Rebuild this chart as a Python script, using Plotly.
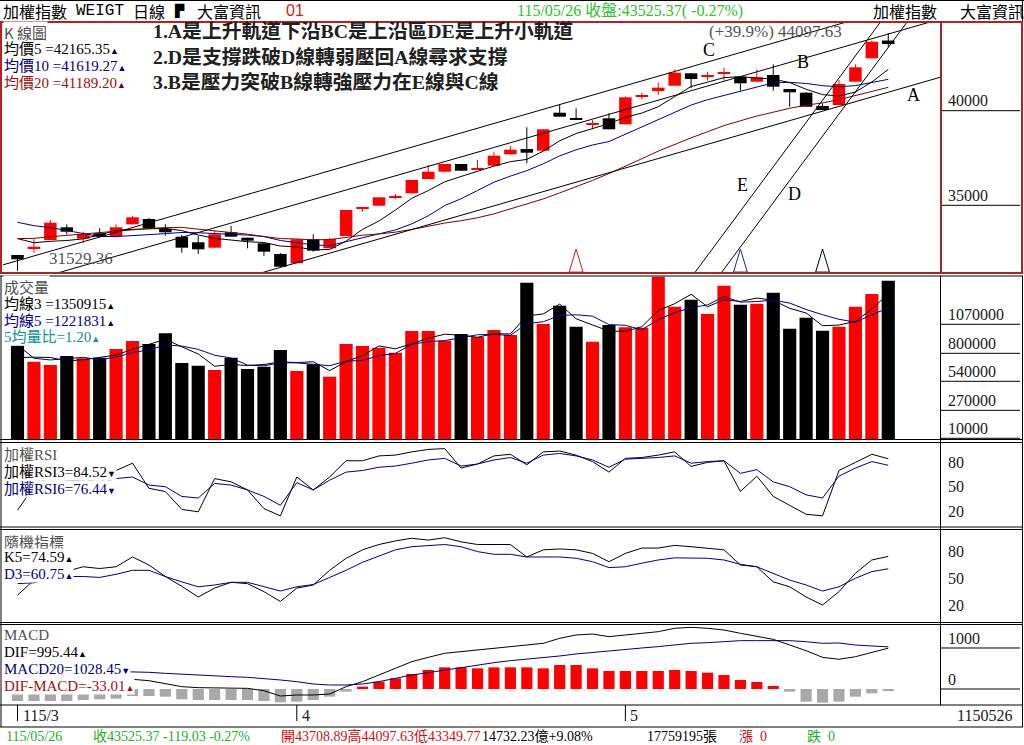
import numpy as np
import pandas as pd
import plotly.graph_objects as go

W, H = 1024, 745
def px(x): return x / W
def py(y): return 1 - y / H

# ---------------- data ----------------
opens = [32374, 32728, 33166, 33838, 33235, 33521, 33378, 33995, 34276, 33748,
         33341, 33045, 32760, 33573, 33288, 32992, 32427, 31935, 33204, 32728,
         33378, 34819, 34979, 35423, 35634, 36390, 36776, 37183, 36903, 37093,
         37696, 37976, 37886, 39894, 39560, 39281, 39598, 39281, 40761, 41041,
         41321, 41977, 41818, 41955, 41797, 41533, 41887, 41147, 40951, 40248,
         40301, 41533, 42769, 43708.89]
highs = [32374, 33204, 34219, 33995, 33605, 33785, 33995, 34451, 34330, 33995,
         33431, 33378, 33658, 33906, 33288, 32992, 32480, 33204, 33468, 33288,
         34752, 34926, 35423, 35598, 36338, 37130, 37183, 37183, 37394, 37833,
         38134, 39122, 39017, 40301, 40127, 39508, 39863, 40760, 40951, 41480,
         42188, 41977, 42061, 42273, 41797, 42188, 42452, 41147, 40990, 40391,
         41622, 42452, 43700, 44097.63]
lows = [31529.36, 32495, 33166, 33468, 32992, 33309, 33309, 33995, 33785, 33394,
        32495, 32427, 32760, 33341, 32728, 32321, 31755, 31935, 32548, 32728,
        33378, 34662, 34979, 35317, 35634, 36390, 36776, 36829, 36903, 37093,
        37696, 37220, 37886, 39683, 39545, 39017, 39017, 39281, 40603, 40830,
        41321, 41184, 41586, 41586, 41057, 41533, 41057, 40211, 40211, 40037,
        40301, 41533, 42769, 43349.77]
closes = [32147, 32812, 34081, 33605, 33484, 33341, 33838, 34366, 33785, 33573,
          32760, 32675, 33468, 33341, 33130, 32548, 31755, 33204, 32601, 33219,
          34752, 34855, 35423, 35492, 36338, 36776, 37183, 36829, 36956, 37622,
          37939, 37780, 39017, 39683, 39545, 39316, 39017, 40708, 40793, 41216,
          42008, 41675, 41850, 41992, 41448, 41765, 41268, 40972, 40211, 40037,
          41411, 42294, 43644.40, 43525.37]
# closes before the visible window (estimated from where the MA lines start)
prior_closes = [32600, 32300, 32100, 31900, 32200, 32400, 32500, 32600, 32700, 32480,
                34600, 35100, 35300, 34800, 35020, 33900, 33700, 33400, 33053]

volumes = [871000, 722000, 691500, 775000, 754000, 759000, 840000, 915000, 887000, 986000,
           710000, 685000, 645000, 759000, 654000, 676000, 831000, 636000, 698000, 583000,
           887000, 868000, 852000, 806000, 1008000, 1008000, 917000, 980000, 952000, 1017000,
           970000, 1457000, 1073000, 1243000, 1048000, 908000, 1063000, 1042000, 1038000, 1513000,
           1234000, 1299000, 1166000, 1429000, 1252000, 1262000, 1364000, 1029000, 1131000, 1010000,
           1048000, 1234000, 1352000, 1475000]
prior_volumes = [1337000, 768000, 709000, 700000]

rsi3 = [21, 50, 72, 64, 60, 55, 70, 79, 48, 44, 22, 19, 60, 56, 46, 23, 14, 62, 46, 62,
        82, 82, 88, 89, 93, 96, 97, 73, 78, 88, 90, 77, 93, 94, 89, 81, 68, 85, 86, 89,
        93, 75, 80, 82, 44, 63, 38, 27, 16, 14, 70, 80, 90, 84.52]
rsi6 = [45, 52, 62, 58, 57, 54, 60, 62, 52, 50, 38, 36, 54, 52, 46, 38, 27, 55, 46, 58,
        68, 70, 74, 75.5, 79, 83, 85, 75.5, 78, 83, 86, 79, 89, 91, 88, 83, 74, 84, 85, 86,
        88, 79, 81, 82, 66.5, 71, 56, 50, 40, 36, 63, 73, 81, 76.44]
k5 = [31, 48, 60, 58, 63, 61, 63, 74, 65, 52, 41, 29, 39, 45.5, 44, 35, 24, 39, 42.5, 59,
      72.5, 82, 88, 92, 95, 93, 95.6, 91, 88, 88, 88, 74, 82, 83, 82, 78, 68.7, 78, 84, 84,
      87, 85.5, 84, 82, 65, 63, 46, 40.5, 29, 20, 35, 55.6, 70.6, 74.59]
d3 = [44, 45, 50, 52, 52, 51, 54.5, 59, 59, 52, 46, 40.5, 42.5, 45.5, 45.5, 40.5, 35.7, 40.5, 43, 51,
      59, 68, 75, 82, 85.5, 87, 88, 85.5, 80, 77, 77, 74, 74, 74, 72.5, 68.7, 62, 63, 67, 70.6,
      73, 73, 72.5, 70.6, 65.7, 63, 55.6, 48, 42.5, 35.7, 40.5, 50, 57.5, 60.75]
dif = [190, 180, 200, 190, 200, 210, 215, 236, 203, 122, 57, 33, 33, 16, 16, -41, -171, -146, -146, -122,
       57, 179, 341, 504, 667, 772, 870, 911, 951, 992, 1033, 1073, 1114, 1236, 1317, 1341, 1276, 1317, 1358, 1398,
       1480, 1504, 1480, 1439, 1358, 1293, 1211, 1073, 935, 772, 724, 788, 886, 995.44]
macd20 = [480, 470, 462, 455, 447, 440, 431, 423, 407, 382, 358, 341, 317, 301, 285, 260, 220, 179, 122, 98,
          98, 122, 179, 260, 341, 398, 463, 528, 585, 642, 691, 724, 772, 805, 854, 886, 935, 968, 1000, 1033,
          1073, 1114, 1130, 1154, 1179, 1179, 1179, 1179, 1154, 1114, 1122, 1073, 1049, 1028.45]
osc = [-293, -293, -293, -293, -268, -252, -236, -171, -171, -187, -252, -268, -268, -268, -268, -293, -325, -309, -268, -187,
       -65, 57, 179, 260, 366, 463, 528, 528, 504, 528, 528, 528, 504, 585, 585, 504, 439, 439, 439, 439,
       463, 439, 398, 341, 220, 171, 73, -65, -309, -333, -309, -187, -106, -33.01]

month_idx = [0, 17, 37]
month_labels = ["115/3", "4", "5"]
price_ticks = [35000, 40000]
vol_ticks = [10000, 270000, 540000, 800000, 1070000]
osc_ticks = [20, 50, 80]
macd_ticks = [0, 1000]
signal_idx = [34, 44, 49]
signal_colors = ["#c02020", "#20208a", "#000000"]
# hand-drawn trend lines: (index, price) anchor pairs
trend_lines = {
    "A": [(-1, 27466), (57, 41977)],
    "B": [(-1, 30563), (57, 45052)],
    "C": [(-1, 31824), (57, 46324)],
    "D": [(42.5, 31037), (57, 48031)],
    "E": [(40.9, 31060), (57, 49930)],
}

for arr in (opens, highs, lows, closes, volumes, rsi3, rsi6, k5, d3, dif, macd20, osc):
    assert len(arr) == 54

# ---------------- styles ----------------
RED = "#ff0000"
BLK = "#000000"
NAVY = "#000080"
DRED = "#800000"
GRAY = "#505050"
MIX = "Liberation Serif, Noto Sans CJK TC, serif"
CJK = "Noto Sans CJK TC, Noto Sans, sans-serif"
TRI_BASE, TRI_TOP, TRI_HALF = 31470, 32690, 0.42

idx = np.arange(54)
o = np.array(opens, float); c = np.array(closes, float)
hi = np.array(highs, float); lo = np.array(lows, float)
up = c >= o
cols = np.where(up, RED, BLK)

allc = pd.Series(prior_closes + closes, dtype=float)
ma5 = allc.rolling(5).mean().values[-54:]
ma10 = allc.rolling(10).mean().values[-54:]
ma20 = allc.rolling(20).mean().values[-54:]
allv = pd.Series(prior_volumes + volumes, dtype=float)
vma3 = allv.rolling(3).mean().values[-54:]
vma5 = allv.rolling(5).mean().values[-54:]

traces = []
# candles
traces.append(go.Bar(x=idx, y=np.maximum(np.abs(c - o), 70), base=np.minimum(o, c), width=0.76,
                     marker=dict(color=list(cols), line=dict(width=0)), xaxis="x", yaxis="y",
                     hoverinfo="skip"))
for col, mask in ((RED, up), (BLK, ~up)):
    wx, wy = [], []
    for i in idx[mask]:
        wx += [i, i, None]; wy += [lo[i], hi[i], None]
    traces.append(go.Scatter(x=wx, y=wy, mode="lines", line=dict(color=col, width=1),
                             xaxis="x", yaxis="y", hoverinfo="skip"))
for ser, col in ((ma5, BLK), (ma10, NAVY), (ma20, DRED)):
    traces.append(go.Scatter(x=idx, y=ser, mode="lines", line=dict(color=col, width=1),
                             xaxis="x", yaxis="y", hoverinfo="skip"))
for name, pts in trend_lines.items():
    traces.append(go.Scatter(x=[p[0] for p in pts], y=[p[1] for p in pts], mode="lines",
                             line=dict(color=BLK, width=1), xaxis="x", yaxis="y", hoverinfo="skip"))
for si, scol in zip(signal_idx, signal_colors):
    traces.append(go.Scatter(x=[si - TRI_HALF, si, si + TRI_HALF, si - TRI_HALF],
                             y=[TRI_BASE, TRI_TOP, TRI_BASE, TRI_BASE], mode="lines",
                             line=dict(color=scol, width=1), xaxis="x", yaxis="y", hoverinfo="skip"))

# volume
traces.append(go.Bar(x=idx, y=volumes, width=0.8, marker=dict(color=list(cols), line=dict(width=0)),
                     xaxis="x2", yaxis="y2", hoverinfo="skip"))
traces.append(go.Scatter(x=idx, y=vma3, mode="lines", line=dict(color=BLK, width=1), xaxis="x2", yaxis="y2"))
traces.append(go.Scatter(x=idx, y=vma5, mode="lines", line=dict(color=NAVY, width=1), xaxis="x2", yaxis="y2"))

# RSI
traces.append(go.Scatter(x=idx, y=rsi3, mode="lines", line=dict(color=BLK, width=1), xaxis="x3", yaxis="y3"))
traces.append(go.Scatter(x=idx, y=rsi6, mode="lines", line=dict(color=NAVY, width=1), xaxis="x3", yaxis="y3"))
# KD
traces.append(go.Scatter(x=idx, y=k5, mode="lines", line=dict(color=BLK, width=1), xaxis="x4", yaxis="y4"))
traces.append(go.Scatter(x=idx, y=d3, mode="lines", line=dict(color=NAVY, width=1), xaxis="x4", yaxis="y4"))
# MACD
osc_cols = [RED if v > 0 else "#a8a8a8" for v in osc]
traces.append(go.Bar(x=idx, y=osc, width=0.68, marker=dict(color=osc_cols, line=dict(width=0)),
                     xaxis="x5", yaxis="y5"))
traces.append(go.Scatter(x=idx, y=macd20, mode="lines", line=dict(color=NAVY, width=1), xaxis="x5", yaxis="y5"))
traces.append(go.Scatter(x=idx, y=dif, mode="lines", line=dict(color=BLK, width=1), xaxis="x5", yaxis="y5"))

# ---------------- layout ----------------
XR = [-0.883, 56.21]
panels = {  # pixel top, bottom, range, ticks, label lift (px)
    "": (22, 273, [31422, 44688], price_ticks, 10),
    "2": (276, 440, [-5800, 1519000], vol_ticks, 10),
    "3": (444, 527, [0.25, 102.7], osc_ticks, 0),
    "4": (530, 622, [0.9, 104.3], osc_ticks, 0),
    "5": (624, 705, [-390, 1585], macd_ticks, 10),
}
layout = dict(width=W, height=H, autosize=False, margin=dict(l=0, r=0, t=0, b=0, pad=0),
              paper_bgcolor="white", plot_bgcolor="white", showlegend=False, barmode="overlay",
              hovermode=False)
for k, (top, bot, rng, ticks, lift) in panels.items():
    layout["xaxis" + k] = dict(domain=[px(3), px(941)], range=XR, anchor="y" + k, showticklabels=False,
                               showgrid=False, zeroline=False, ticks="", showline=False, automargin=False,
                               **({} if k == "" else {"matches": "x"}))
    layout["yaxis" + k] = dict(domain=[py(bot), py(top)], range=rng, anchor="x" + k, side="right",
                               showgrid=False, zeroline=False, showline=False, ticks="", automargin=False,
                               tickvals=ticks, ticktext=[str(t) for t in ticks],
                               tickfont=dict(family="Liberation Serif, serif", size=16, color="#202020"),
                               ticklabelstandoff=6, ticklabelshift=-lift)

shapes = []
def hline(y, x0, x1, color=BLK, w=1):
    shapes.append(dict(type="line", xref="paper", yref="paper", x0=px(x0), x1=px(x1), y0=py(y), y1=py(y),
                       line=dict(color=color, width=w)))
def vline(x, y0, y1, color=BLK, w=1):
    shapes.append(dict(type="line", xref="paper", yref="paper", x0=px(x), x1=px(x), y0=py(y0), y1=py(y1),
                       line=dict(color=color, width=w)))

# tick lines in right column
for k, ticks in (("", price_ticks), ("2", vol_ticks), ("5", macd_ticks)):
    for t in ticks:
        shapes.append(dict(type="line", xref="paper", yref="y" + k, x0=px(941), x1=px(1020), y0=t, y1=t,
                           line=dict(color=BLK, width=1)))
# month ticks
for m in month_idx:
    shapes.append(dict(type="line", xref="x5", yref="paper", x0=m, x1=m, y0=py(705), y1=py(721),
                       line=dict(color=BLK, width=1)))

KR = "#b22222"
hline(0.5, 0, 1024)
vline(1022.5, 0, 22)
hline(22, 0, 1023, KR, 2); hline(273, 0, 1023, KR, 2)
vline(1, 22, 273, KR, 2); vline(1022, 22, 273, KR, 2); vline(941, 22, 273, KR, 2)
for y in (276, 439.5, 442.5, 527, 529.5, 622.5, 624.5, 705, 727):
    hline(y, 0, 1023)
vline(1, 276, 727); vline(1022.5, 276, 727); vline(940.5, 276, 705)

annotations = []
def ann(x, y, text, color=BLK, size=15, family=MIX, anchor="left", bg=None, **kw):
    d = dict(xref="paper", yref="paper", x=px(x), y=py(y), xanchor=anchor, yanchor="middle",
             showarrow=False, text=text, font=dict(family=family, size=size, color=color), **kw)
    if bg:
        d["bgcolor"] = bg; d["borderpad"] = 0
    annotations.append(d)

def tri(ch, color):
    return "<span style='font-size:9px;color:%s'>%s</span>" % (color, ch)

# header
ann(1, 11, "加權指數", size=16, family=CJK)
ann(74, 11, "WEIGT", size=16, family="Liberation Mono, monospace")
ann(131, 11, "日線", size=16, family=CJK)
ann(172, 11, "▛", size=12, family="DejaVu Sans")
ann(195, 11, "大富資訊", size=16, family=CJK)
ann(284, 11, "01", color="#d02020", size=16, family="Liberation Sans, sans-serif")
ann(515, 11, "115/05/26 收盤:43525.37( -0.27%)", color="#30c030", size=16)
ann(871, 11, "加權指數", size=16, family=CJK)
ann(958, 11, "大富資訊", size=16, family=CJK)

# K panel texts
ann(3, 32, "K 線圖", color=GRAY, size=15, family=CJK, bg="white")
ann(3, 49, "均價5 =42165.35" + tri("▲", BLK), bg="white")
ann(3, 66, "均價10 =41619.27" + tri("▲", NAVY), color=NAVY, bg="white")
ann(3, 83, "均價20 =41189.20" + tri("▲", DRED), color="#a01010", bg="white")
ann(151, 31, "<b>1.A是上升軌道下沿BC是上沿區DE是上升小軌道</b>", color="#202020", size=19.8)
ann(151, 57, "<b>2.D是支撐跌破D線轉弱壓回A線尋求支撐</b>", color="#202020", size=19.8)
ann(151, 82, "<b>3.B是壓力突破B線轉強壓力在E線與C線</b>", color="#202020", size=19.8)
ann(707, 31, "(+39.9%) 44097.63", color="#555555", size=17, family="Liberation Serif, serif")
ann(47, 258, "31529.36", color="#555555", size=17, family="Liberation Serif, serif")
for lab, (lx, ly) in {"A": (913, 95), "B": (803, 62), "C": (709, 50), "D": (794, 194), "E": (742, 185)}.items():
    ann(lx, ly, lab, size=18, family="Liberation Serif, serif", anchor="center")

# volume panel
ann(3, 287, "成交量", color=GRAY, size=15, family=CJK, bg="white")
ann(3, 304, "均線3 =1350915" + tri("▲", BLK), bg="white")
ann(3, 321, "均線5 =1221831" + tri("▲", NAVY), color=NAVY, bg="white")
ann(3, 337, "5均量比=1.20" + tri("▲", "#109090"), color="#109090", bg="white")
# RSI
ann(3, 455, "加權RSI", color=GRAY, size=15, bg="white")
ann(3, 472, "加權RSI3=84.52" + tri("▼", BLK), bg="white")
ann(3, 489, "加權RSI6=76.44" + tri("▼", NAVY), color=NAVY, bg="white")
# KD
ann(3, 541, "隨機指標", color=GRAY, size=15, family=CJK, bg="white")
ann(3, 557, "K5=74.59" + tri("▲", BLK), bg="white")
ann(3, 574, "D3=60.75" + tri("▲", NAVY), color=NAVY, bg="white")
# MACD
ann(3, 635, "MACD", color=GRAY, size=15, bg="white")
ann(3, 652, "DIF=995.44" + tri("▲", BLK), bg="white")
ann(3, 669, "MACD20=1028.45" + tri("▼", NAVY), color=NAVY, bg="white")
ann(3, 686, "DIF-MACD=-33.01" + tri("▲", "#a01010"), color="#a01010", bg="white")

# date row
for m, lab in zip(month_idx, month_labels):
    annotations.append(dict(xref="x5", yref="paper", x=m, y=py(715), xanchor="left", yanchor="middle",
                            xshift=3, showarrow=False, text=lab,
                            font=dict(family="Liberation Serif, serif", size=16, color="#202020")))
ann(955, 715, "1150526", size=16, family="Liberation Serif, serif", color="#202020")

# status bar
G = "#20b020"; R = "#d01010"
ann(4, 736, "115/05/26", color=G, size=14)
ann(91, 736, "收43525.37 -119.03 -0.27%", color=G, size=14)
ann(279, 736, "開43708.89高44097.63低43349.77", color=R, size=14)
ann(480, 736, "14732.23億+9.08%", size=14)
ann(645, 736, "17759195張", size=14)
ann(737, 736, "漲  0", color=R, size=14)
ann(805, 736, "跌  0", color=G, size=14)

layout["shapes"] = shapes
layout["annotations"] = annotations

fig = go.Figure(data=traces, layout=layout)
fig.write_html("out.html", include_plotlyjs=True, config={"displayModeBar": False, "responsive": False})
